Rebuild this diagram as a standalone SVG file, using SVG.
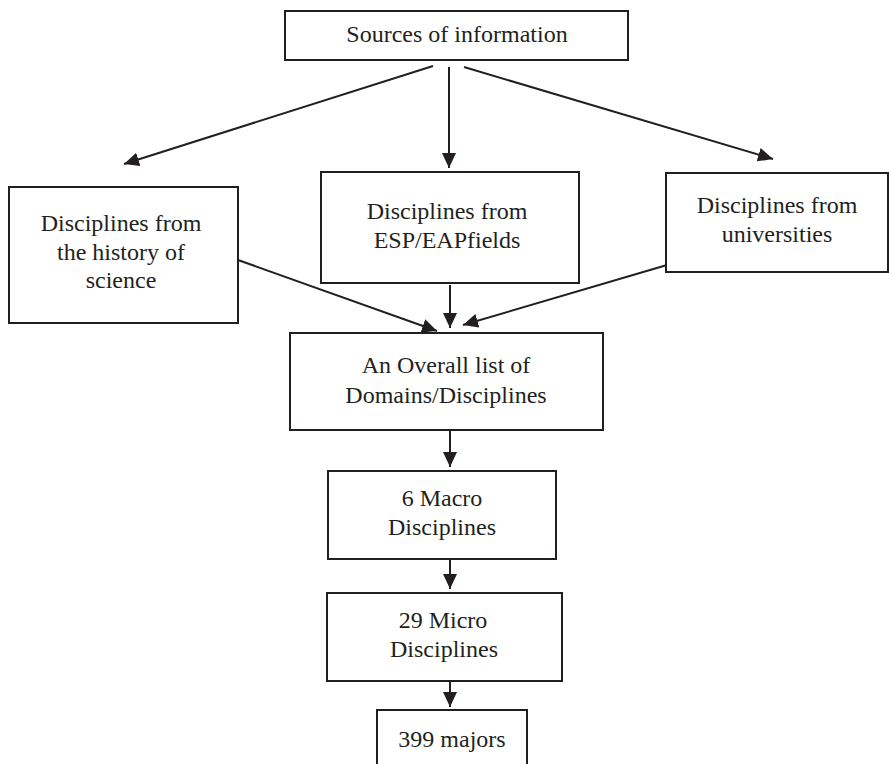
<svg xmlns="http://www.w3.org/2000/svg" width="889" height="764" viewBox="0 0 889 764">
<style>
.box{fill:#fff;stroke:#231f20;stroke-width:2}
.lbl{font-family:"Liberation Serif","Times New Roman",serif;font-size:24px;fill:#231f20;text-anchor:middle}
.con{fill:none;stroke:#231f20;stroke-width:2}
</style>
<defs>
<marker id="ah" markerUnits="userSpaceOnUse" markerWidth="16" markerHeight="14" refX="15" refY="7" orient="auto">
<path d="M0,0 L15,7 L0,14 z" fill="#231f20"/>
</marker>
</defs>
<rect width="889" height="764" fill="#fff"/>
<g id="connectors">
<path class="con" marker-end="url(#ah)" d="M433,66 L124,164"/>
<path class="con" marker-end="url(#ah)" d="M449,67 L449,168"/>
<path class="con" marker-end="url(#ah)" d="M464,67 L773,159"/>
<path class="con" marker-end="url(#ah)" d="M238,260 L437,331"/>
<path class="con" marker-end="url(#ah)" d="M450,285 L450,328"/>
<path class="con" marker-end="url(#ah)" d="M667,265 L463,325"/>
<path class="con" marker-end="url(#ah)" d="M450,431 L450,467"/>
<path class="con" marker-end="url(#ah)" d="M450,560 L450,589"/>
<path class="con" marker-end="url(#ah)" d="M450,682 L450,707"/>
</g>
<g id="sources">
<rect class="box" x="285" y="11" width="343" height="49"/>
<text class="lbl" x="457" y="42">Sources of information</text>
</g>
<g id="history">
<rect class="box" x="9" y="187" width="229" height="136"/>
<text class="lbl" x="121" y="231">Disciplines from</text>
<text class="lbl" x="121" y="260">the history of</text>
<text class="lbl" x="121" y="288">science</text>
</g>
<g id="esp">
<rect class="box" x="321" y="172" width="258" height="111"/>
<text class="lbl" x="447" y="219">Disciplines from</text>
<text class="lbl" x="447" y="248">ESP/EAPfields</text>
</g>
<g id="universities">
<rect class="box" x="666" y="173" width="222" height="99"/>
<text class="lbl" x="777" y="213">Disciplines from</text>
<text class="lbl" x="777" y="242">universities</text>
</g>
<g id="overall">
<rect class="box" x="290" y="333" width="313" height="97"/>
<text class="lbl" x="446" y="373">An Overall list of</text>
<text class="lbl" x="446" y="403">Domains/Disciplines</text>
</g>
<g id="macro">
<rect class="box" x="328" y="471" width="228" height="88"/>
<text class="lbl" x="442" y="506">6 Macro</text>
<text class="lbl" x="442" y="535">Disciplines</text>
</g>
<g id="micro">
<rect class="box" x="327" y="593" width="235" height="88"/>
<text class="lbl" x="443" y="628">29 Micro</text>
<text class="lbl" x="444" y="657">Disciplines</text>
</g>
<g id="majors">
<rect class="box" x="377" y="710" width="150" height="60"/>
<text class="lbl" x="452" y="747">399 majors</text>
</g>
</svg>
